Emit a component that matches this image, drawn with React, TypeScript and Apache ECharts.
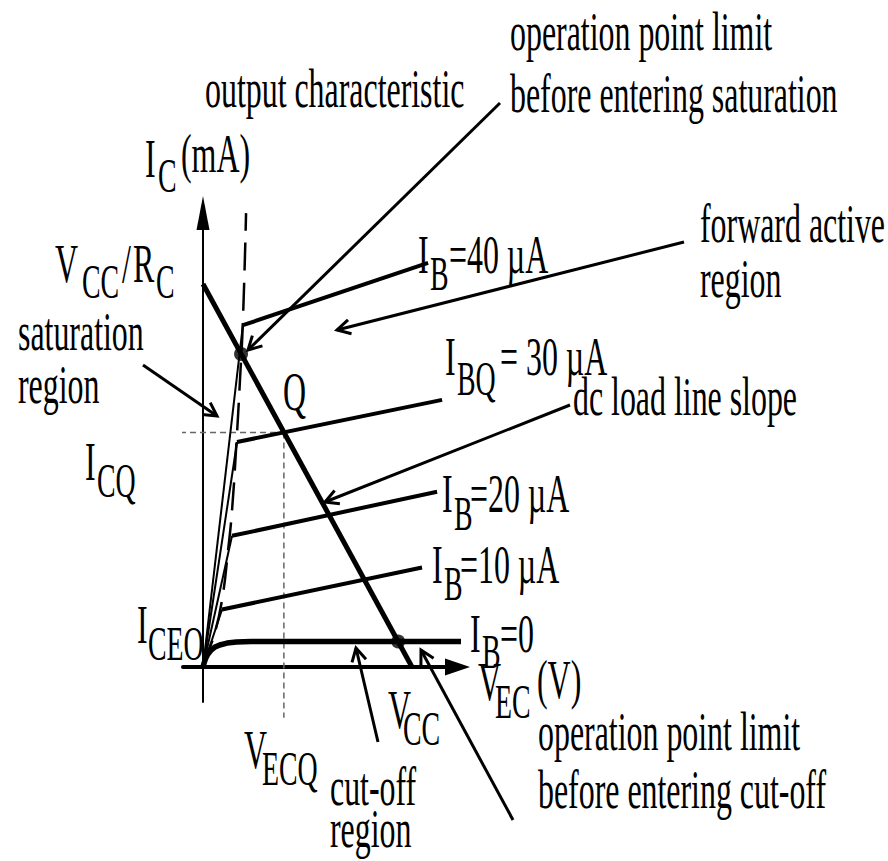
import React, { useEffect, useRef } from 'react';
import * as echarts from 'echarts';

// ---- data (V_EC in volts, I_C in mA) ----
const ibNames = ['IB=10µA', 'IB=20µA', 'IBQ=30µA', 'IB=40µA'];
const kneeVEC = [0.91, 1.39, 1.63, 1.91];
const kneeIC = [0.6, 1.37, 2.35, 3.57];
const endVEC = [10.48, 11.2, 11.44, 10.77];
const endIC = [1.04, 1.83, 2.79, 4.22];

const cutoffVEC = [0, 0.05, 0.12, 0.22, 0.36, 0.55, 0.8, 1.15, 1.6, 2.3, 12.68];
const cutoffIC = [0, 0.04, 0.085, 0.13, 0.17, 0.205, 0.23, 0.25, 0.26, 0.266, 0.266];

const boundaryVEC = [0, 0.19, 0.53, 0.91, 1.2, 1.39, 1.58, 1.77, 1.91, 2.06];
const boundaryIC = [0, 0.13, 0.33, 0.7, 1.22, 1.64, 2.27, 3.0, 3.62, 4.74];

const loadVEC = [0, 10];
const loadIC = [4, 0];

const VECQ = 3.87;
const ICQ = 2.45;
const icqLineStartVEC = -3.97;
const vecqLineEndIC = -0.53;

const satPoint = [1.82, 3.27];
const cutPoint = [9.34, 0.266];

// ---- layout ----
const PXV = 20.9; // px per volt
const PXI = 95.75; // px per mA
const ORIGIN_X = 203;
const ORIGIN_Y = 667;
const GRID = { left: 183, top: 213, right: 457.5, bottom: 702 };

const F = 55;
const S = 48;
const SX = 0.58;
type T = [string, number, number, number];
const texts: T[] = [
  ['operation point limit', 510, 50, F],
  ['before entering saturation', 510, 112, F],
  ['output characteristic', 205, 107, F],
  ['I', 145, 177, F], ['C', 158, 192, S], ['(mA)', 181, 172, F],
  ['V', 55, 282, F], ['CC', 82, 298, S], ['/', 122, 282, F], ['R', 133, 282, F], ['C', 156, 298, S],
  ['I', 418, 273, F], ['B', 430, 290, S], ['=40 µA', 449, 273, F],
  ['forward active', 700, 242, F], ['region', 700, 297, F],
  ['saturation', 18, 350, F], ['region', 18, 403, F],
  ['I', 445, 375, F], ['BQ', 457, 395, S], ['= 30 µA', 500, 375, F],
  ['Q', 283, 410, F],
  ['dc load line slope', 573, 415, F],
  ['I', 85, 480, F], ['CQ', 97, 497, S],
  ['I', 442, 512, F], ['B', 454, 530, S], ['=20 µA', 470, 512, F],
  ['I', 432, 583, F], ['B', 444, 600, S], ['=10 µA', 460, 583, F],
  ['I', 137, 643, F], ['CEO', 148, 660, S],
  ['I', 470, 652, F], ['B', 482, 668, S], ['=0', 500, 652, F],
  ['V', 478, 700, F], ['EC', 495, 718, S], ['(V)', 537, 698, F],
  ['V', 388, 728, F], ['CC', 403, 745, S],
  ['operation point limit', 538, 750, F],
  ['before entering cut-off', 538, 808, F],
  ['V', 244, 768, F], ['ECQ', 262, 785, S],
  ['cut-off', 330, 805, F], ['region', 330, 847, F],
];

// annotation arrows: tail x, tail y, tip x, tip y (pixels)
const arrows: number[][] = [
  [500, 103, 248, 350],
  [684, 242, 337, 330],
  [143, 365, 217, 416],
  [570, 405, 325, 502],
  [378, 742, 356, 648],
  [513, 820, 421, 650],
];

function arrowEls(a: number[]) {
  const [x1, y1, x2, y2] = a;
  const ang = Math.atan2(y2 - y1, x2 - x1);
  const L = 15;
  const h = 0.5;
  const p1 = [x2 - L * Math.cos(ang - h), y2 - L * Math.sin(ang - h)];
  const p2 = [x2 - L * Math.cos(ang + h), y2 - L * Math.sin(ang + h)];
  return [
    { type: 'line', silent: true, shape: { x1, y1, x2, y2 }, style: { stroke: '#000', lineWidth: 3 } },
    {
      type: 'polyline', silent: true,
      shape: { points: [p1, [x2, y2], p2] },
      style: { stroke: '#000', lineWidth: 3, fill: null },
    },
  ];
}

function textEl(t: T) {
  const [text, x, base, size] = t;
  return {
    type: 'text', silent: true,
    x, y: base - 0.34 * size, scaleX: SX,
    style: {
      text, fill: '#000',
      font: `${size}px "Liberation Serif", "Times New Roman", serif`,
      align: 'left', verticalAlign: 'middle',
      textAlign: 'left', textVerticalAlign: 'middle',
    },
  };
}

const zip = (a: number[], b: number[]) => a.map((v, i) => [v, b[i]]);

export default function App() {
  const ref = useRef<HTMLDivElement>(null);
  useEffect(() => {
    const chart = echarts.init(ref.current!, null, { renderer: 'svg' });
    const base = { type: 'line', symbol: 'none', silent: true, clip: false, z: 3 };
    const series: any[] = [];
    ibNames.forEach((name, i) => {
      series.push({ ...base, name: name + ' rise', data: [[0, 0], [kneeVEC[i], kneeIC[i]]], lineStyle: { color: '#000', width: 2 } });
      series.push({ ...base, name, data: [[kneeVEC[i], kneeIC[i]], [endVEC[i], endIC[i]]], lineStyle: { color: '#000', width: 4 } });
    });
    series.push({ ...base, name: 'IB=0', data: zip(cutoffVEC, cutoffIC), lineStyle: { color: '#000', width: 5.5 } });
    series.push({ ...base, name: 'output characteristic', smooth: true, data: zip(boundaryVEC, boundaryIC), lineStyle: { color: '#000', width: 2.5, type: [28, 12] } });
    series.push({ ...base, name: 'load line', data: zip(loadVEC, loadIC), lineStyle: { color: '#000', width: 5 }, z: 4 });
    series.push({ ...base, name: 'ICQ', data: [[icqLineStartVEC, ICQ], [VECQ, ICQ]], lineStyle: { color: '#666', width: 1.5, type: [6, 4] }, z: 2 });
    series.push({ ...base, name: 'VECQ', data: [[VECQ, ICQ], [VECQ, vecqLineEndIC]], lineStyle: { color: '#666', width: 1.5, type: [6, 4] }, z: 2 });
    series.push({ type: 'scatter', silent: true, clip: false, z: 5, data: [satPoint, cutPoint], symbolSize: 14, itemStyle: { color: '#000' } });

    const gw = GRID.right - GRID.left;
    const gh = GRID.bottom - GRID.top;
    const graphics: any[] = [];
    arrows.forEach((a) => graphics.push(...arrowEls(a)));
    texts.forEach((t) => graphics.push(textEl(t)));

    chart.setOption({
      animation: false,
      backgroundColor: '#fff',
      grid: { left: GRID.left, top: GRID.top, width: gw, height: gh },
      xAxis: {
        type: 'value',
        min: -(ORIGIN_X - GRID.left) / PXV,
        max: (GRID.right - ORIGIN_X) / PXV,
        axisLine: { onZero: true, symbol: ['none', 'triangle'], symbolSize: [17, 25], lineStyle: { color: '#000', width: 4 } },
        axisTick: { show: false }, axisLabel: { show: false }, splitLine: { show: false },
      },
      yAxis: {
        type: 'value',
        min: -(GRID.bottom - ORIGIN_Y) / PXI,
        max: (ORIGIN_Y - GRID.top) / PXI,
        axisLine: { onZero: true, symbol: ['none', 'triangle'], symbolSize: [13, 34], lineStyle: { color: '#000', width: 2 } },
        axisTick: { show: false }, axisLabel: { show: false }, splitLine: { show: false },
      },
      series,
      graphic: { elements: graphics },
    });
    return () => chart.dispose();
  }, []);
  return <div ref={ref} style={{ position: 'fixed', left: 0, top: 0, width: 888, height: 861, background: '#fff' }} />;
}
